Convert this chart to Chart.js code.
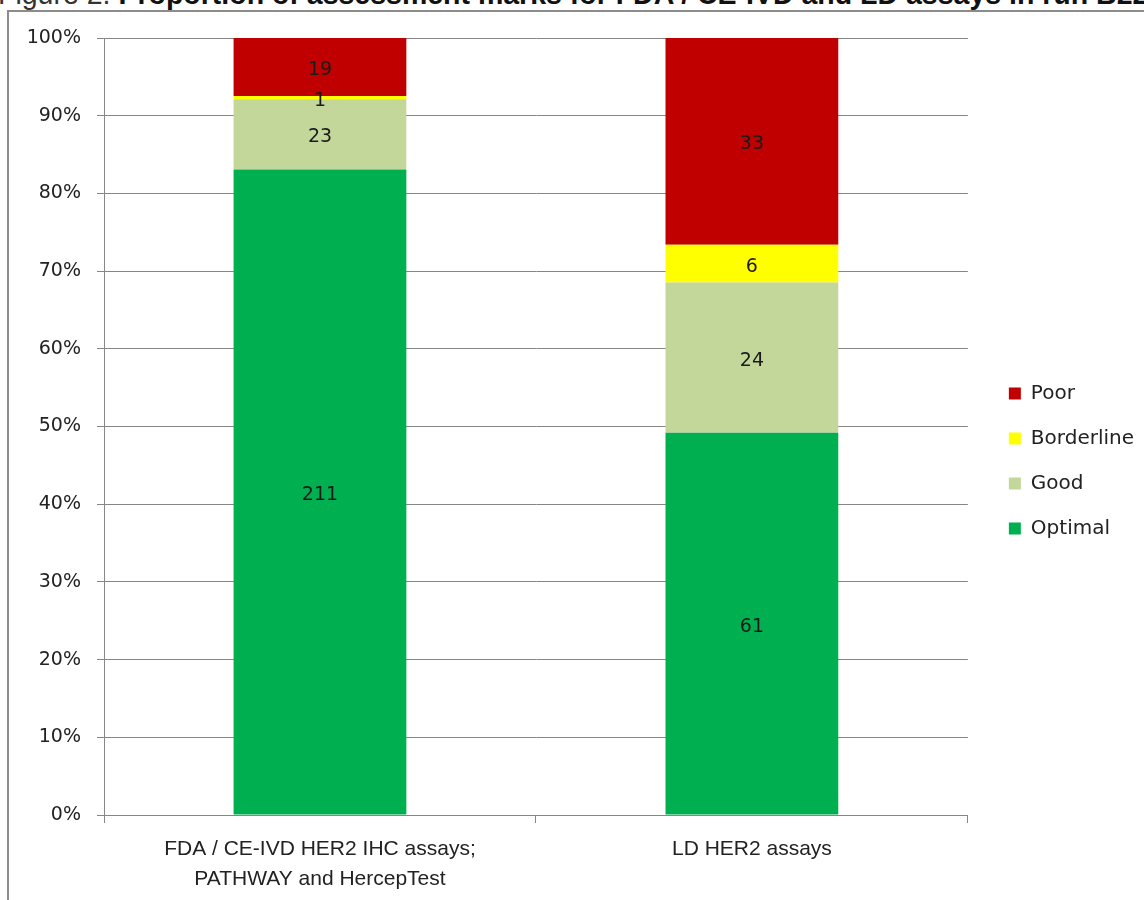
<!DOCTYPE html>
<html>
<head>
<meta charset="utf-8">
<script src="https://cdn.jsdelivr.net/npm/chart.js@4"></script>
<style>
  body { margin: 0; background: #fff; overflow: hidden; }
  #wrap { position: relative; width: 1144px; height: 900px; }
  #title {
    position: absolute; left: -2px; top: -23px; white-space: nowrap;
    font-family: 'Liberation Sans', Arial, sans-serif; font-size: 30px; color: #111;
    transform: scaleX(0.95); transform-origin: left top;
  }
  #title span { color: #333; }
  #frame {
    position: absolute; left: 7px; top: 10px; right: -4px; bottom: -4px;
    border-left: 2px solid #8c8c8c; border-top: 2px solid #8c8c8c;
  }
  #box { position: absolute; left: 0; top: 0; width: 1144px; height: 900px; }
</style>
</head>
<body>
<div id="wrap">
  <div id="title"><span>Figure 2.</span> <b>Proportion of assessment marks for FDA / CE-IVD and LD assays in run B22</b></div>
  <div id="frame"></div>
  <div id="box"><canvas id="marks-chart"></canvas></div>
</div>
<script>
var categories = [['FDA / CE-IVD HER2 IHC assays;', 'PATHWAY and HercepTest'], 'LD HER2 assays'];
var optimal = [211, 61];
var good = [23, 24];
var borderline = [1, 6];
var poor = [19, 33];
var yTicks = [0, 10, 20, 30, 40, 50, 60, 70, 80, 90, 100];

var totals = optimal.map(function (v, i) { return v + good[i] + borderline[i] + poor[i]; });
function pct(arr) { return arr.map(function (v, i) { return v / totals[i] * 100; }); }

// draws the raw counts in the middle of each segment
var countLabels = {
  id: 'countLabels',
  afterDatasetsDraw: function (chart) {
    var ctx = chart.ctx;
    ctx.save();
    ctx.font = '19px "DejaVu Sans"';
    ctx.fillStyle = '#1a1a1a';
    ctx.textAlign = 'center';
    ctx.textBaseline = 'middle';
    chart.data.datasets.forEach(function (ds, d) {
      chart.getDatasetMeta(d).data.forEach(function (el, i) {
        ctx.fillText(ds.counts[i], el.x, (el.y + el.base) / 2 + 3);
      });
    });
    ctx.restore();
  }
};

// legend sits a little above the vertical middle in the original
var legendNudge = {
  id: 'legendNudge',
  afterLayout: function (chart) {
    chart.legend.top -= 8;
    chart.legend.bottom -= 8;
  }
};

var context = document.getElementById('marks-chart').getContext('2d');
var chart = new Chart(context, {
  type: 'bar',
  data: {
    labels: categories,
    datasets: [
      { label: 'Optimal', data: pct(optimal), counts: optimal, backgroundColor: '#00B050' },
      { label: 'Good', data: pct(good), counts: good, backgroundColor: '#C4D79B' },
      { label: 'Borderline', data: pct(borderline), counts: borderline, backgroundColor: '#FFFF00' },
      { label: 'Poor', data: pct(poor), counts: poor, backgroundColor: '#C00000' }
    ]
  },
  options: {
    animation: false,
    responsive: true,
    maintainAspectRatio: false,
    barPercentage: 1,
    categoryPercentage: 0.4,
    layout: { padding: { top: 38, left: 8, right: 0, bottom: 0 } },
    plugins: {
      tooltip: { enabled: false },
      legend: {
        position: 'right',
        reverse: true,
        labels: {
          boxWidth: 12,
          boxHeight: 12,
          padding: 25,
          color: '#222',
          font: { family: 'DejaVu Sans', size: 20 }
        }
      }
    },
    scales: {
      x: {
        stacked: true,
        afterFit: function (scale) { scale.height = 85; },
        grid: { offset: true, drawOnChartArea: false, tickLength: 8, color: '#868686' },
        border: { color: '#868686' },
        ticks: {
          color: '#222',
          padding: 12,
          font: { family: 'Liberation Sans', size: 21, lineHeight: 1.4 }
        }
      },
      y: {
        stacked: true,
        min: 0,
        max: 100,
        afterFit: function (scale) { scale.width = 96; },
        afterBuildTicks: function (scale) { scale.ticks = yTicks.map(function (v) { return { value: v }; }); },
        grid: { color: '#868686', tickLength: 7 },
        border: { color: '#868686' },
        ticks: {
          color: '#222',
          padding: 16,
          font: { family: 'DejaVu Sans', size: 19 },
          callback: function (v) { return v + '%'; }
        }
      },
      // empty spacer between plot and legend
      gap: {
        position: 'right',
        afterFit: function (scale) { scale.width = 16; },
        grid: { display: false },
        border: { display: false },
        ticks: { display: false }
      }
    }
  },
  plugins: [countLabels, legendNudge]
});
</script>
</body>
</html>
